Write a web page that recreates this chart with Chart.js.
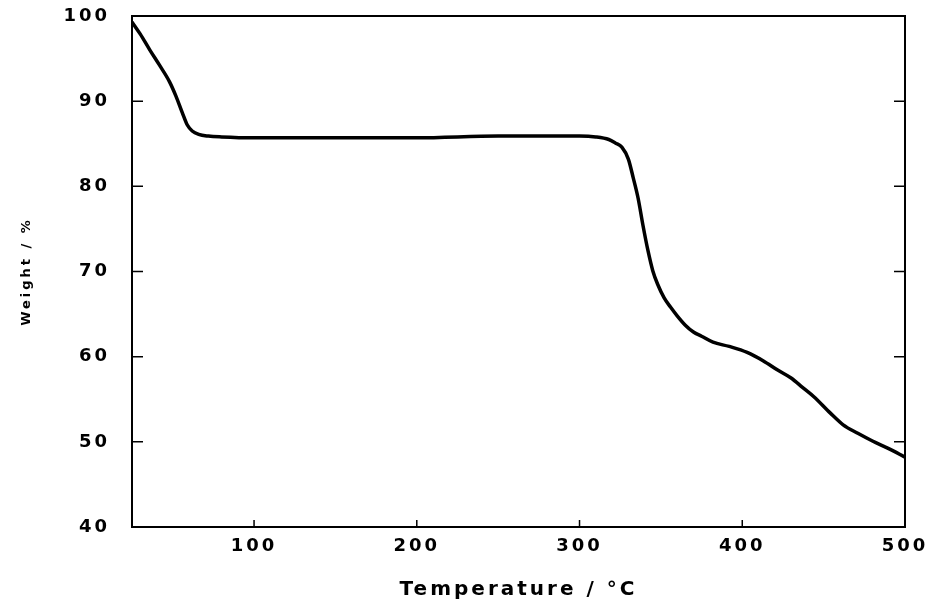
<!DOCTYPE html>
<html>
<head>
<meta charset="utf-8">
<script src="https://cdn.jsdelivr.net/npm/chart.js@4.4.1/dist/chart.umd.min.js"></script>
<style>
  html, body { margin: 0; padding: 0; background: #fff; }
  #wrap { width: 930px; height: 610px; }
</style>
</head>
<body>
<div id="wrap"><canvas id="tgaChart" width="930" height="610"></canvas></div>
<script>
// TGA curve
var temps = [25, 30, 36, 42, 48, 52, 56, 59, 62, 66, 72, 80, 100, 150, 200, 250, 300,
  310, 318, 322, 326, 330, 333, 336, 339, 342, 345, 348, 352, 356, 360, 365, 370, 375, 382,
  392, 403, 413, 422, 430, 437, 444, 454, 462, 471, 480, 490, 500];
var weights = [99.3, 97.9, 96.0, 94.2, 92.3, 90.6, 88.6, 87.2, 86.5, 86.1, 85.9, 85.8, 85.7,
  85.7, 85.7, 85.9, 85.9, 85.8, 85.5, 85.1, 84.6, 83.2, 81.0, 78.6, 75.4, 72.5, 70.1,
  68.5, 66.9, 65.8, 64.8, 63.7, 62.9, 62.4, 61.7, 61.2, 60.5, 59.5, 58.4, 57.5, 56.4, 55.3, 53.4,
  52.0, 51.0, 50.1, 49.2, 48.2];
var xTicks = [100, 200, 300, 400, 500];
var yTicks = [40, 50, 60, 70, 80, 90, 100];

var points = temps.map(function (t, i) { return { x: t, y: weights[i] }; });

// box round the plot plus the short inward ticks
var frame = {
  id: 'frame',
  beforeDraw: function (chart) {
    chart.ctx.letterSpacing = '3px';
  },
  afterDraw: function (chart) {
    var ctx = chart.ctx, a = chart.chartArea;
    var xs = chart.scales.x, ys = chart.scales.y;
    ctx.save();
    ctx.strokeStyle = '#000';
    ctx.lineWidth = 2;
    ctx.strokeRect(a.left, a.top, a.right - a.left, a.bottom - a.top);
    ctx.lineWidth = 1.5;
    ctx.beginPath();
    yTicks.slice(1, -1).forEach(function (v) {
      var py = ys.getPixelForValue(v);
      ctx.moveTo(a.left, py); ctx.lineTo(a.left + 11, py);
      ctx.moveTo(a.right, py); ctx.lineTo(a.right - 11, py);
    });
    xTicks.slice(0, -1).forEach(function (v) {
      var px = xs.getPixelForValue(v);
      ctx.moveTo(px, a.bottom); ctx.lineTo(px, a.bottom - 7);
    });
    ctx.stroke();
    ctx.restore();
  }
};

var tgaChart = document.getElementById('tgaChart').getContext('2d');
var myLineChart = new Chart(tgaChart, {
  type: 'line',
  data: {
    datasets: [{
      data: points,
      borderColor: '#000',
      borderWidth: 3.5,
      pointRadius: 0,
      fill: false,
      cubicInterpolationMode: 'monotone'
    }]
  },
  options: {
    responsive: false,
    animation: false,
    layout: { padding: { left: 10, top: 16, right: 25, bottom: 5 } },
    plugins: { legend: { display: false }, tooltip: { enabled: false } },
    scales: {
      x: {
        type: 'linear',
        min: 25,
        max: 500,
        grid: { display: false },
        border: { display: false },
        afterBuildTicks: function (s) { s.ticks = xTicks.map(function (v) { return { value: v }; }); },
        afterFit: function (s) { s.height = 78; },
        ticks: {
          padding: 1,
          maxRotation: 0,
          color: '#000',
          font: { family: 'DejaVu Sans', size: 18, weight: 'bold' }
        },
        title: {
          display: true,
          text: 'Temperature / °C',
          color: '#000',
          padding: { top: 0, bottom: 3 },
          font: { family: 'DejaVu Sans', size: 20, weight: 'bold' }
        }
      },
      y: {
        min: 40,
        max: 100,
        grid: { display: false },
        border: { display: false },
        afterBuildTicks: function (s) { s.ticks = yTicks.map(function (v) { return { value: v }; }); },
        afterFit: function (s) {
          s.width = 122;
          s.paddingTop = 0;
          s.paddingBottom = 0;
        },
        ticks: {
          padding: 14,
          color: '#000',
          font: { family: 'DejaVu Sans', size: 18, weight: 'bold' }
        },
        title: {
          display: true,
          text: 'Weight / %',
          color: '#000',
          padding: { top: 9, bottom: 0 },
          font: { family: 'DejaVu Sans', size: 13, weight: 'bold' }
        }
      }
    }
  },
  plugins: [frame]
});
</script>
</body>
</html>
